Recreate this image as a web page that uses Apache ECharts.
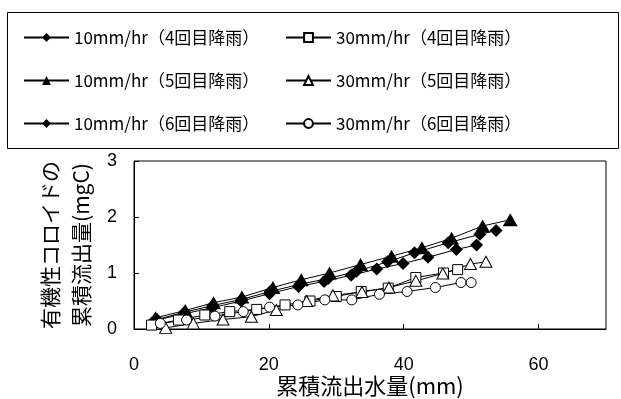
<!DOCTYPE html>
<html>
<head>
<meta charset="utf-8">
<script src="https://cdn.jsdelivr.net/npm/echarts@6/dist/echarts.min.js"></script>
<style>html,body{margin:0;padding:0;background:#fff;}#c{width:621px;height:399px;}</style>
</head>
<body>
<div id="c"></div>
<script>
const seriesNames = [
  '10mm/hr（4回目降雨）',
  '10mm/hr（5回目降雨）',
  '10mm/hr（6回目降雨）',
  '30mm/hr（4回目降雨）',
  '30mm/hr（5回目降雨）',
  '30mm/hr（6回目降雨）'
];
const s10_4 = [[3.0,0.15],[7.4,0.27],[11.6,0.38],[15.9,0.50],[20.1,0.63],[24.4,0.76],[28.2,0.85],[32.2,0.96],[36.0,1.07],[39.9,1.17],[43.6,1.28],[47.8,1.42],[50.8,1.50]];
const s10_5 = [[3.2,0.20],[7.6,0.33],[11.8,0.47],[16.0,0.57],[20.6,0.74],[24.8,0.88],[29.0,1.00],[33.6,1.15],[38.2,1.30],[42.7,1.45],[47.1,1.62],[51.7,1.84],[55.8,1.95]];
const s10_6 = [[3.4,0.17],[7.5,0.30],[11.7,0.42],[16.0,0.53],[20.2,0.67],[24.6,0.80],[28.8,0.90],[33.0,1.03],[37.6,1.20],[41.6,1.36],[46.6,1.54],[51.3,1.69],[53.7,1.76]];
const s30_4 = [[2.6,0.07],[6.6,0.16],[10.5,0.25],[14.2,0.31],[18.2,0.35],[22.4,0.43],[26.1,0.50],[30.0,0.58],[33.7,0.67],[37.7,0.73],[41.8,0.92],[45.9,1.00],[48.0,1.06]];
const s30_5 = [[4.7,0.02],[8.8,0.10],[13.2,0.17],[17.4,0.22],[21.1,0.34],[25.6,0.50],[29.5,0.60],[33.8,0.66],[37.8,0.74],[41.8,0.86],[45.8,0.99],[49.9,1.16],[52.2,1.20]];
const s30_6 = [[3.9,0.10],[7.8,0.16],[12.0,0.23],[16.2,0.31],[20.1,0.39],[24.3,0.43],[28.3,0.52],[32.3,0.52],[36.4,0.62],[40.5,0.67],[44.7,0.74],[48.5,0.83],[50.0,0.83]];
const xTicks = [0, 20, 40, 60];
const yTicks = [0, 1, 2, 3];
const xName = '累積流出水量(mm)';
const yName = '有機性コロイドの\n累積流出量(mgC)';

const dataSets = [s10_4, s10_5, s10_6, s30_4, s30_5, s30_6];
const symbols = ['diamond', 'triangle', 'diamond', 'rect', 'triangle', 'circle'];
const sizes = [13, [15, 13], 13, 10, [12, 11], 10];
const filled = [true, true, true, false, false, false];

const FONT = '"Liberation Sans", "Noto Sans CJK JP", sans-serif';
const CJK = '"Noto Sans CJK JP", sans-serif';

const legendCommon = {
  orient: 'vertical', top: 29, padding: 0,
  itemWidth: 45, itemHeight: 11, itemGap: 26, itemTextGap: 3,
  textStyle: {fontFamily: CJK, fontSize: 17, lineHeight: 16, color: '#000'}
};

const chart = echarts.init(document.getElementById('c'), null, {renderer: 'canvas'});
chart.setOption({
  animation: false,
  backgroundColor: '#fff',
  graphic: [{
    type: 'rect', left: 5, top: 10,
    shape: {width: 611, height: 136},
    style: {fill: 'none', stroke: '#000', lineWidth: 1}
  }],
  legend: [
    Object.assign({data: seriesNames.slice(0, 3), left: 23}, legendCommon),
    Object.assign({data: seriesNames.slice(3), left: 285}, legendCommon)
  ],
  grid: {left: 134, top: 161, right: 15, bottom: 70, show: true, borderColor: '#000', borderWidth: 1, containLabel: false},
  xAxis: {
    type: 'value', min: xTicks[0], max: 70, interval: xTicks[1] - xTicks[0],
    axisLine: {lineStyle: {color: '#000', width: 1}},
    axisTick: {inside: true, length: 5, lineStyle: {color: '#000'}},
    axisLabel: {color: '#000', fontSize: 18, fontFamily: FONT, margin: 27, showMaxLabel: false},
    splitLine: {show: false},
    name: xName, nameLocation: 'middle', nameGap: 44,
    nameTextStyle: {fontFamily: CJK, fontSize: 22, color: '#000'}
  },
  yAxis: {
    type: 'value', min: yTicks[0], max: yTicks[yTicks.length - 1], interval: yTicks[1] - yTicks[0],
    axisLine: {lineStyle: {color: '#000', width: 1}},
    axisTick: {inside: true, length: 5, lineStyle: {color: '#000'}},
    axisLabel: {color: '#000', fontSize: 18, fontFamily: FONT, margin: 17},
    splitLine: {show: false},
    name: yName, nameLocation: 'middle', nameRotate: 90, nameGap: 33,
    nameTextStyle: {fontFamily: CJK, fontSize: 21, color: '#000', lineHeight: 31}
  },
  series: dataSets.map((d, i) => ({
    name: seriesNames[i], type: 'line', data: d,
    symbol: symbols[i], symbolSize: sizes[i], showSymbol: true,
    lineStyle: {color: '#000', width: 1},
    itemStyle: filled[i] ? {color: '#000', borderColor: '#000', borderWidth: 0}
                         : {color: '#fff', borderColor: '#000', borderWidth: 1},
    z: filled[i] ? 2 : 3
  }))
});
</script>
</body>
</html>
